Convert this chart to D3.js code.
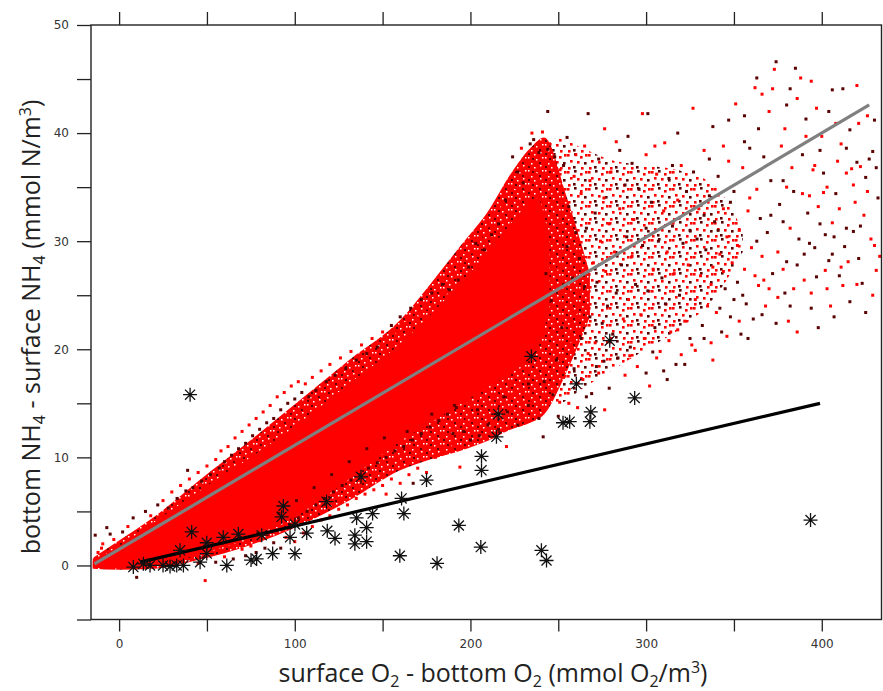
<!DOCTYPE html>
<html>
<head>
<meta charset="utf-8">
<script src="https://cdn.jsdelivr.net/npm/d3@7"></script>
<style>
  body { margin: 0; background: #fff; }
  svg { display: block; }
</style>
</head>
<body>
<div id="chart"></div>
<script>
// Axis ticks
var xTicks = [0, 50, 100, 150, 200, 250, 300, 350, 400];
var yTicks = [-5, 0, 5, 10, 15, 20, 25, 30, 35, 40, 45, 50];

// Envelopes of the red cloud
// solid core
var coreX    = [-15, 0, 20, 45, 75, 103, 131, 160, 185, 210, 225, 238, 245];
var coreHigh = [0.4, 1.8, 4.0, 6.8, 10.0, 13.2, 16.8, 20.5, 24.5, 29.0, 32.0, 34.0, 30.0];
var coreLow  = [-0.2, -0.3, 0.0, 1.0, 2.6, 4.8, 8.0, 11.5, 14.0, 16.5, 18.0, 20.0, 24.0];
// dense speckled band around the core
var haloX    = [-15, 0, 20, 45, 75, 103, 131, 160, 177, 194, 211, 222, 234, 242, 255, 268];
var haloHigh = [0.7, 2.3, 4.5, 7.8, 11.6, 15.3, 19.0, 22.7, 26.0, 29.5, 33.0, 36.0, 38.6, 39.6, 34.0, 27.0];
var haloLow  = [-0.3, -0.4, -0.3, 0.5, 1.9, 3.7, 6.0, 8.8, 9.8, 10.6, 11.6, 12.5, 13.2, 14.0, 18.0, 23.0];
// looser speckle to the right of the core
var midX     = [238, 250, 265, 280, 300, 320, 340, 355];
var midHigh  = [39.0, 39.5, 38.5, 37.5, 37.0, 36.5, 35.0, 31.0];
var midLow   = [15.0, 15.0, 16.5, 18.0, 20.0, 22.0, 25.0, 29.0];

// Scattered red points  [O2 diff, NH4 diff]
var redDots = [
  [-13.6,2.8],[-9.3,2.0],[-5.1,2.9],[-12,1.2],[-7,3.5],[-3,2.4],[2,3.1],[5,3.6],[8,4.4],[-10,1.6],[10,-1.1],[49,-1.4],
  [15,5.0],[18,4.6],[22,5.6],[25,6.0],[28,5.3],[30,6.8],[33,6.2],[35,7.4],[38,6.9],[40,8.0],[42,7.2],[45,8.6],[47,7.8],
  [50,9.2],[52,8.4],[55,9.8],[57,9.0],[58,10.6],[60,9.6],[62,11.0],[64,10.2],[66,11.8],[68,10.8],[70,12.4],[72,11.3],
  [74,13.0],[76,12.0],[78,13.6],[80,12.6],[82,14.2],[84,13.2],[86,14.8],[88,13.6],[90,15.6],[92,14.4],[94,16.0],[96,15.0],
  [98,16.6],[100,15.4],[102,17.0],[104,16.0],[106,16.8],[108,15.6],[110,17.4],[112,16.2],[115,18.0],[118,17.0],[120,18.6],
  [123,17.6],[126,19.2],[129,18.2],[132,19.8],[135,19.0],[138,20.4],[141,19.6],[144,21.0],[147,20.2],[150,21.6],[39,8.8],
  [45,0.2],[55,0.3],[60,0.8],[65,0.6],[70,1.5],[72,0.9],[75,1.8],[78,1.2],[80,2.3],[83,1.6],[85,2.9],[88,2.1],[90,3.3],
  [92,1.6],[95,2.6],[97,3.8],[100,2.2],[102,4.4],[105,3.0],[107,5.0],[110,3.6],[112,5.6],[115,4.2],[117,6.2],[120,4.6],
  [122,6.8],[125,5.2],[127,7.4],[130,5.6],[132,7.9],[135,6.2],[137,8.4],[140,6.6],[142,9.0],[145,7.0],[147,9.5],[150,7.4],
  [152,10.0],[155,8.0],[157,10.6],[160,7.6],[162,11.0],[165,8.4],[167,11.6],[170,9.0],[172,12.2],[175,8.6],[177,12.8],
  [180,10.0],[182,13.4],[185,10.4],[187,14.0],[190,11.0],[192,14.6],[194,9.1],[196,12.4],[198,15.2],[200,11.6],[203,15.8],
  [205,12.0],[208,16.4],[210,13.0],[213,16.9],[216,12.6],[218,17.5],[221,14.2],[224,18.0],[227,13.0],[230,18.6],[233,14.8],
  [236,19.2],[239,13.6],[152,6.6],[167.4,7.6],[177,10.3],[190,12.2],[220.5,11.0],[241.4,11.9],[250.8,15.1],[266,15.6],
  [276.4,14.4],[271.7,18.4],[290.7,19.4],[303.8,19.75],[313,20.8],[310,18.0],[320,19.5],[325,21.0],
  [62,2.0],[68,2.6],[74,3.4],[79,3.0],[86,4.2],[91,4.8],[96,5.6],[101,6.0],[106,6.6],[111,7.2],[116,7.8],[121,8.4],
  [126,9.0],[131,9.6],[136,10.2],[141,10.8],[146,11.4],[151,11.8],[158,10.0],[164,12.4],[171,13.2],[178,14.0],[184,12.2],
  [191,14.8],[198,13.6],[204,14.4],[211,15.0],[219,15.6],[226,16.0],[233,16.8],
  [152,21.0],[155,22.2],[158,21.6],[160,23.0],[163,22.4],[166,23.8],[169,23.0],[172,24.6],[175,23.8],[178,25.2],[181,24.6],
  [184,26.0],[186,25.2],[188,25.5],[190,27.0],[193,26.4],[196,28.2],[199,27.6],[201,29.0],[203,29.8],[206,30.4],[208,29.2],
  [210,31.4],[212,30.6],[214,32.4],[216,31.6],[218,33.2],[220,33.8],[222,35.0],[224,37.8],[225,34.6],[227,36.4],[229,38.6],
  [230,35.4],[232,37.2],[234,39.0],[235,40.0],[236,39.4],[237,36.2],[239,38.2],[241,40.1],[244,42.0],[245,39.0],[248,37.8],
  [251,36.6],[267,41.8],[276.4,40.4],[289.7,39.7],[297.9,41.8],[301,41.8],[310.6,39.1],[318,40.0],[326.7,42.3],[255,39.6],
  [260,38.0],[285,38.4],[305,38.8],[315,37.0],
  [241,14.5],[242,17.0],[242,22.5],[243,27.0],[243,33.5],[244,38.5],[245,20.0],[246,24.5],[246,30.0],[247,15.8],[248,35.5],
  [249,19.0],[250,27.5],[250,13.8],[251,31.8],[252,22.0],[253,17.4],[253,37.0],[254,25.0],[255,29.5],[256,15.0],[256,33.2],
  [257,20.8],[258,26.6],[259,36.0],[259,18.2],[260,23.4],[260,30.8],[261,14.6],[262,28.4],[263,34.4],[263,21.0],[264,17.2],
  [265,25.8],[265,38.8],[266,31.2],[267,19.6],[268,23.0],[268,35.6],[269,15.9],[270,28.0],[271,32.6],[271,20.6],[272,26.2],
  [273,17.8],[273,37.6],[274,30.0],[275,22.4],[276,34.0],[276,18.9],[277,27.2],[278,24.0],[279,31.6],[279,16.4],[280,36.4],
  [281,21.4],[282,29.0],[283,25.2],[283,39.2],[284,19.2],[285,33.0],[286,27.8],[287,22.8],[288,35.2],[288,17.6],[289,30.4],
  [290,24.6],[291,20.2],[292,28.6],[292,37.2],[293,32.0],[294,26.0],[295,18.4],[296,34.8],[297,23.2],[298,29.6],[299,21.0],
  [300,31.2],[300,38.0],[301,25.4],[302,16.6],[303,33.6],[304,27.4],[305,22.0],[306,36.2],[307,30.0],[308,19.8],[309,26.6],
  [310,32.8],[311,24.2],[312,29.0],[313,35.8],[314,21.6],[315,31.4],[316,27.0],[317,18.6],[318,33.8],[319,25.0],[320,37.0],
  [321,29.8],[322,22.6],[323,34.6],[324,27.8],[325,31.0],[326,20.4],[327,36.4],[328,24.6],[329,30.2],[330,33.0],
  [300,17.8],[306,19.2],[312,17.2],[318,21.8],[322,18.6],[328,19.9],[333,21.0],[338,19.0],[342,23.8],[346,21.2],[350,24.6],
  [353,22.6],[358,21.0],[362,26.8],[366,23.2],[370,25.6],[374,22.4],[378,27.4],[382,24.0],[386,21.6],[390,28.8],[394,25.2],
  [398,22.0],[403,25.6],[407,23.0],[411,27.6],[416,24.4],[420,26.0],[425,23.4],[429,25.0],
  [333,32.4],[337,26.0],[341,31.0],[344,27.2],[348,33.6],[352,29.6],[355,25.0],[359,34.0],[363,30.0],[367,26.4],[371,32.4],
  [375,29.0],[378,35.6],[382,31.2],[386,27.8],[389,34.4],[393,29.8],[396,37.0],[399,31.6],[403,35.0],[406,28.8],[410,33.0],
  [414,38.6],[418,35.2],[422,31.4],[426,34.6],[431,36.8],[420,44.4],[404,42.0],[394,44.8],[380,42.6],[366,43.6],[356,39.2],
  [344,38.8],[336,37.6],
  [331,26.8],[332,22.2],[333,38.4],[334,29.2],[335,24.0],[336,34.2],[337,20.6],[338,40.6],[338,27.6],[339,31.8],[340,23.4],
  [341,36.0],[342,28.8],[343,21.6],[344,33.0],[345,25.6],[346,30.4],[347,41.2],[347,37.4],[348,23.0],[349,28.0],[350,34.6],
  [351,42.7],[352,26.2],[353,31.0],[354,21.4],[355,36.8],[356,41.6],[356,27.4],[357,24.2],[358,32.8],[359,38.6],[360,29.4],
  [361,22.8],[362,44.2],[363,45.1],[363,34.8],[364,40.4],[364,25.9],[365,32.1],[366,28.6],[367,37.8],[368,24.0],[369,30.8],
  [370,42.0],[371,35.6],[372,44.1],[372,27.0],[373,45.9],[374,46.6],[375,24.8],[376,33.4],[377,38.8],[378,31.8],[379,40.4],
  [379,25.2],[380,35.0],[380,28.1],[381,22.6],[382,44.1],[383,36.8],[384,34.6],[384,25.6],[385,46.0],[386,43.2],[387,30.2],
  [388,45.1],[389,38.0],[390,26.4],[391,41.3],[391,39.7],[392,32.6],[393,34.2],[394,23.8],[395,36.6],[396,29.4],[397,42.3],
  [397,26.7],[398,33.2],[399,38.4],[400,39.7],[401,36.3],[401,34.5],[402,30.6],[402,27.3],[404,28.2],[405,24.0],[406,44.0],
  [406,31.7],[407,30.4],[408,40.9],[408,34.4],[409,37.4],[410,26.8],[411,39.0],[412,44.1],[412,25.9],[413,29.5],[414,36.3],
  [414,31.2],[415,28.1],[416,40.3],[417,36.7],[418,30.9],[419,33.6],[420,37.3],[421,40.9],[421,28.4],[422,36.9],[423,26.1],
  [424,32.4],[425,35.9],[426,41.6],[427,37.6],[428,30.2],[429,38.3],[430,29.6],[430,41.2],[431,27.3],[432,34.0],[433,28.6]
];

// Black asterisks (observations)
var starX = [40.4, 41.3, 8.1, 13.8, 17.6, 25, 29, 32.8, 36.6, 34.7, 46.1, 49.9, 49.9, 59.3, 61.3, 67.9, 75.1, 78.3, 81.2,
             87.4, 92.5, 93.5, 97.3, 100.1, 100.1, 106.8, 118.1, 118.5, 122.9, 134.2, 134.2, 135.2, 137.7, 140.9, 140.9, 144.3,
             159.8, 160.8, 162.1, 175, 181, 193.4, 205.9, 206.3, 206.3, 214.8, 215.8, 234.7, 240.4, 243.3, 252.7, 256.5,
             260.3, 268, 268.5, 279.3, 293.5, 393.6];
var starY = [15.8, 3.1, -0.15, 0.15, 0.0, 0.0, -0.1, 0.0, 0.0, 1.4, 0.3, 2.1, 1.1, 2.6, 0.0, 2.9, 0.5, 0.6, 2.8,
             1.1, 4.5, 5.5, 2.6, 3.8, 1.1, 3.0, 5.9, 3.2, 2.5, 2.8, 2.0, 4.4, 8.2, 3.5, 2.2, 4.8,
             0.9, 6.2, 4.8, 7.9, 0.2, 3.7, 1.7, 10.1, 8.8, 11.9, 14.0, 19.35, 1.4, 0.46, 13.2, 13.3,
             16.8, 13.3, 14.2, 20.8, 15.5, 4.2];

// Fitted lines (end points)
var fitGray  = [[-14, 0.15], [427, 42.6]];
var fitBlack = [[12, 0.31], [399, 15.0]];

var width = 883, height = 691;
var margin = { top: 25, right: 1.5, bottom: 71.5, left: 91 };

var x = d3.scaleLinear().domain([-16, 434]).range([margin.left, width - margin.right]);
var y = d3.scaleLinear().domain([-5, 50]).range([height - margin.bottom, margin.top]);

var svg = d3.select("#chart").append("svg")
  .attr("width", width)
  .attr("height", height);

var defs = svg.append("defs");
defs.append("clipPath").attr("id", "plotClip")
  .append("rect")
  .attr("x", x(-16)).attr("y", y(50))
  .attr("width", x(434) - x(-16)).attr("height", y(-5) - y(50));

// speckle textures for the dense and the loose parts of the cloud
var dense = defs.append("pattern").attr("id", "dense")
  .attr("patternUnits", "userSpaceOnUse").attr("width", 17).attr("height", 13);
dense.append("rect").attr("width", 17).attr("height", 13).attr("fill", "#ff0000");
[[1, 1], [9, 3], [4, 7], [13, 9], [15, 1], [7, 11]].forEach(function (p) {
  dense.append("rect").attr("x", p[0]).attr("y", p[1]).attr("width", 1.5).attr("height", 1.5).attr("fill", "#fff");
});
[[5, 2], [12, 6], [1, 10]].forEach(function (p) {
  dense.append("rect").attr("x", p[0]).attr("y", p[1]).attr("width", 2).attr("height", 2).attr("fill", "#6a0000");
});

var loose = defs.append("pattern").attr("id", "loose")
  .attr("patternUnits", "userSpaceOnUse").attr("width", 21).attr("height", 17);
[[0, 1, "#ff0000"], [7, 0, "#5a0000"], [13, 3, "#ff0000"], [17, 9, "#5a0000"], [3, 7, "#ff0000"],
 [10, 8, "#ff0000"], [6, 13, "#5a0000"], [14, 14, "#ff0000"], [1, 14, "#ff0000"], [18, 1, "#ff0000"]].forEach(function (p) {
  loose.append("rect").attr("x", p[0]).attr("y", p[1]).attr("width", 2.6).attr("height", 2.6).attr("fill", p[2]);
});

var plot = svg.append("g").attr("clip-path", "url(#plotClip)");

function band(xs, lo, hi) {
  return xs.map(function (d, i) { return { x: d, lo: lo[i], hi: hi[i] }; });
}
var area = d3.area()
  .curve(d3.curveMonotoneX)
  .x(function (d) { return x(d.x); })
  .y0(function (d) { return y(d.lo); })
  .y1(function (d) { return y(d.hi); });

plot.append("path").datum(band(midX, midLow, midHigh)).attr("fill", "url(#loose)").attr("d", area);
plot.append("path").datum(band(haloX, haloLow, haloHigh)).attr("fill", "url(#dense)").attr("d", area);
plot.append("path").datum(band(coreX, coreLow, coreHigh)).attr("fill", "#ff0000").attr("d", area);

// scattered points
plot.selectAll("rect.dot")
  .data(redDots)
  .enter().append("rect")
  .attr("class", "dot")
  .attr("x", function (d) { return x(d[0]) - 1.5; })
  .attr("y", function (d) { return y(d[1]) - 1.5; })
  .attr("width", 3)
  .attr("height", 3)
  .attr("fill", function (d, i) { return i % 2 ? "#ff0000" : "#5a0000"; });

var line = d3.line().x(function (d) { return x(d[0]); }).y(function (d) { return y(d[1]); });

plot.append("path").datum(fitGray)
  .attr("d", line).attr("stroke", "#808080").attr("stroke-width", 3.2).attr("fill", "none");

plot.append("path").datum(fitBlack)
  .attr("d", line).attr("stroke", "#000").attr("stroke-width", 3.2).attr("fill", "none");

// asterisks
var r = 7, rd = r * 0.72;
var starPath = "M" + (-r) + ",0L" + r + ",0M0," + (-r) + "L0," + r +
  "M" + (-rd) + "," + (-rd) + "L" + rd + "," + rd + "M" + (-rd) + "," + rd + "L" + rd + "," + (-rd);
plot.selectAll("path.star")
  .data(starX)
  .enter().append("path")
  .attr("class", "star")
  .attr("d", starPath)
  .attr("transform", function (d, i) { return "translate(" + x(d) + "," + y(starY[i]) + ")"; })
  .attr("stroke", "#111")
  .attr("stroke-width", 1.3)
  .attr("fill", "none");

// frame
svg.append("rect")
  .attr("x", x(-16)).attr("y", y(50))
  .attr("width", x(434) - x(-16)).attr("height", y(-5) - y(50))
  .attr("fill", "none").attr("stroke", "#222").attr("stroke-width", 1.4);

// axes
var xAxis = svg.append("g")
  .attr("transform", "translate(0," + y(-5) + ")")
  .call(d3.axisBottom(x).tickValues(xTicks).tickSize(12).tickSizeOuter(0)
    .tickFormat(function (d) { return d % 100 === 0 ? d : ""; }));

var xAxisTop = svg.append("g")
  .attr("transform", "translate(0," + y(50) + ")")
  .call(d3.axisTop(x).tickValues(xTicks).tickSize(13).tickSizeOuter(0).tickFormat(""));

var yAxis = svg.append("g")
  .attr("transform", "translate(" + x(-16) + ",0)")
  .call(d3.axisLeft(y).tickValues(yTicks).tickSize(14).tickSizeOuter(0)
    .tickFormat(function (d) { return d % 10 === 0 ? d : ""; }));

[xAxis, xAxisTop, yAxis].forEach(function (a) {
  a.select(".domain").remove();
  a.selectAll("line").attr("stroke", "#222").attr("stroke-width", 1.3);
  a.selectAll("text").attr("fill", "#333")
    .style("font-family", "'DejaVu Sans', sans-serif").style("font-size", "12px");
});
xAxis.selectAll("text").attr("dy", "1.1em");
yAxis.selectAll("text").attr("x", -22);

// axis titles
var xTitle = svg.append("text")
  .attr("x", 493).attr("y", 682)
  .attr("text-anchor", "middle")
  .attr("fill", "#222")
  .style("font-family", "'Open Sans', sans-serif").style("font-size", "25px");
xTitle.append("tspan").text("surface O");
xTitle.append("tspan").attr("dy", 5).style("font-size", "16px").text("2");
xTitle.append("tspan").attr("dy", -5).text(" - bottom O");
xTitle.append("tspan").attr("dy", 5).style("font-size", "16px").text("2");
xTitle.append("tspan").attr("dy", -5).text(" (mmol O");
xTitle.append("tspan").attr("dy", 5).style("font-size", "16px").text("2");
xTitle.append("tspan").attr("dy", -5).text("/m");
xTitle.append("tspan").attr("dy", -9).style("font-size", "16px").text("3");
xTitle.append("tspan").attr("dy", 9).text(")");

var yTitle = svg.append("text")
  .attr("transform", "translate(40,327) rotate(-90)")
  .attr("text-anchor", "middle")
  .attr("fill", "#222")
  .style("font-family", "'Open Sans', sans-serif").style("font-size", "25px");
yTitle.append("tspan").text("bottom NH");
yTitle.append("tspan").attr("dy", 5).style("font-size", "16px").text("4");
yTitle.append("tspan").attr("dy", -5).text(" - surface NH");
yTitle.append("tspan").attr("dy", 5).style("font-size", "16px").text("4");
yTitle.append("tspan").attr("dy", -5).text(" (mmol N/m");
yTitle.append("tspan").attr("dy", -9).style("font-size", "16px").text("3");
yTitle.append("tspan").attr("dy", 9).text(")");
</script>
</body>
</html>
